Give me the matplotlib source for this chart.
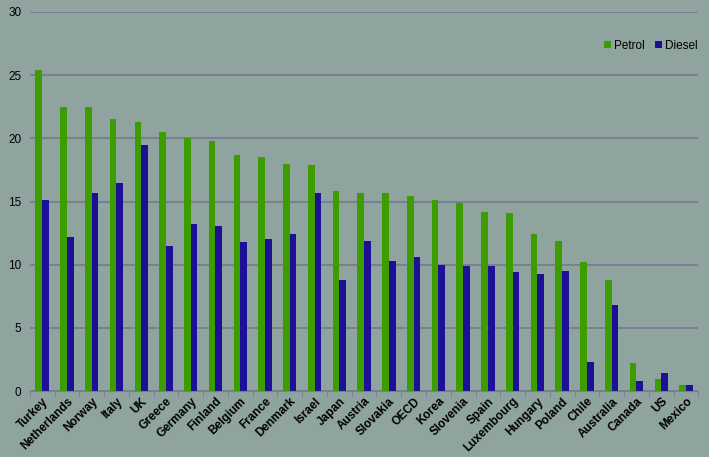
import numpy as np
import matplotlib
matplotlib.use("Agg")
import matplotlib.pyplot as plt

# Data
countries = ["Turkey", "Netherlands", "Norway", "Italy", "UK", "Greece", "Germany",
             "Finland", "Belgium", "France", "Denmark", "Israel", "Japan", "Austria",
             "Slovakia", "OECD", "Korea", "Slovenia", "Spain", "Luxembourg", "Hungary",
             "Poland", "Chile", "Australia", "Canada", "US", "Mexico"]
petrol = [25.4, 22.5, 22.5, 21.5, 21.3, 20.5, 20.0, 19.8, 18.7, 18.5, 18.0, 17.9,
          15.8, 15.7, 15.7, 15.4, 15.1, 14.9, 14.2, 14.1, 12.4, 11.9, 10.2, 8.8,
          2.2, 1.0, 0.5]
diesel = [15.1, 12.2, 15.7, 16.5, 19.5, 11.5, 13.2, 13.1, 11.8, 12.0, 12.4, 15.7,
          8.8, 11.9, 10.3, 10.6, 10.0, 9.9, 9.9, 9.4, 9.3, 9.5, 2.3, 6.8,
          0.8, 1.4, 0.5]
yticks = [0, 5, 10, 15, 20, 25, 30]

bg = "#8fa49f"
green = "#3c9c00"
blue = "#1c1196"

plt.rcParams['font.family'] = ['Liberation Sans', 'DejaVu Sans']

fig = plt.figure(figsize=(7.09, 4.57), dpi=100, facecolor=bg)
ax = fig.add_axes([0.042, 0.144, 0.943, 0.830])
ax.set_facecolor(bg)

x = np.arange(len(countries))
w = 0.27
ax.bar(x - w / 2, petrol, w, color=green, label="Petrol", zorder=3)
ax.bar(x + w / 2, diesel, w, color=blue, label="Diesel", zorder=3)

ax.set_xlim(-0.5, len(countries) - 0.5)
ax.set_ylim(0, 30)
ax.set_yticks(yticks)
ax.tick_params(axis="y", length=0, labelsize=8.5, pad=6)
ax.yaxis.grid(True, color="#767891", linewidth=1.2, zorder=0)

# category labels at centres, tick marks at category boundaries
ax.set_xticks(x)
ax.set_xticklabels(countries, rotation=45, ha="right", rotation_mode="anchor",
                   fontsize=8.5, fontweight="bold")
ax.tick_params(axis="x", length=0, pad=3)
ax.set_xticks(np.arange(len(countries) + 1) - 0.5, minor=True)
ax.tick_params(axis="x", which="minor", length=4, color="#7a7d8a")

for s in ["left", "right", "top"]:
    ax.spines[s].set_visible(False)
ax.spines["bottom"].set_color("#7a7d8a")
ax.spines["bottom"].set_zorder(4)

ax.legend(loc="upper right", bbox_to_anchor=(1.015, 0.955), ncol=2, frameon=False,
          fontsize=8.5, handlelength=0.6, handleheight=0.6, handletextpad=0.3,
          columnspacing=0.8)

fig.savefig("out.png", dpi=100, facecolor=bg)
